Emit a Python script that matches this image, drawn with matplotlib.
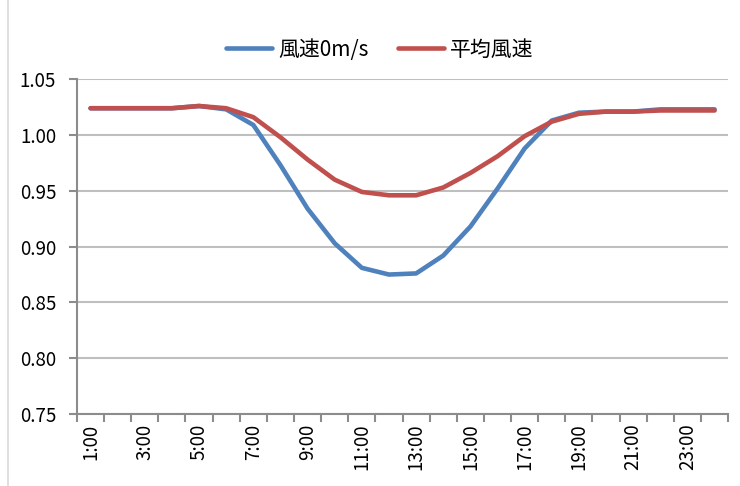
import matplotlib
matplotlib.use("Agg")
import matplotlib.pyplot as plt
from matplotlib.lines import Line2D

plt.rcParams['font.family'] = ['Noto Sans CJK JP', 'DejaVu Sans']

# 時刻（カテゴリ）
hours = [f"{h}:00" for h in range(1, 25)]

# 風速0m/s
wind_0 = [1.024, 1.024, 1.024, 1.024, 1.026, 1.023, 1.009, 0.973,
          0.934, 0.903, 0.881, 0.875, 0.876, 0.892, 0.918, 0.952,
          0.988, 1.013, 1.020, 1.021, 1.021, 1.023, 1.023, 1.023]

# 平均風速
wind_avg = [1.024, 1.024, 1.024, 1.024, 1.026, 1.024, 1.016, 0.998,
            0.978, 0.960, 0.949, 0.946, 0.946, 0.953, 0.966, 0.981,
            0.999, 1.012, 1.019, 1.021, 1.021, 1.022, 1.022, 1.022]

BLUE = "#4F81BD"
RED = "#C0504D"
GRID = "#BFBFBF"
AXIS = "#8C8C8C"

fig = plt.figure(figsize=(7.4, 4.86), dpi=100)
ax = fig.add_axes([0.104, 0.148, 0.880, 0.689])

x = list(range(len(hours)))
ax.plot(x, wind_0, color=BLUE, lw=3.3, label="風速0m/s", solid_capstyle="round")
ax.plot(x, wind_avg, color=RED, lw=3.3, label="平均風速", solid_capstyle="round")

# y 軸
ax.set_ylim(0.75, 1.05)
ax.set_yticks([0.75 + 0.05 * i for i in range(7)])
ax.set_yticklabels([f"{0.75 + 0.05 * i:.2f}" for i in range(7)], fontsize=13.5)
ax.yaxis.grid(True, color=GRID, lw=1.5)
ax.set_axisbelow(True)

# x 軸：目盛りはカテゴリ境界、ラベルは一つおき
ax.set_xlim(-0.5, len(hours) - 0.5)
ax.set_xticks([i - 0.5 for i in range(len(hours) + 1)])
ax.set_xticklabels([])
ax.set_xticks(x[::2], minor=True)
ax.set_xticklabels(hours[::2], minor=True, rotation=90, fontsize=13.5)
ax.tick_params(axis="x", which="minor", length=0, pad=7)
ax.tick_params(axis="x", which="major", length=6, width=1.5, color=AXIS)
ax.tick_params(axis="y", length=6, width=1.5, color=AXIS, pad=9)

for side in ["top", "right"]:
    ax.spines[side].set_visible(False)
for side in ["left", "bottom"]:
    ax.spines[side].set_color(AXIS)
    ax.spines[side].set_linewidth(1.5)

ax.legend(loc="lower center", bbox_to_anchor=(0.465, 1.012), ncol=2, frameon=False,
          fontsize=15, handlelength=2.2, columnspacing=1.4, handletextpad=0.3,
          borderpad=0.2)

# 左端の枠線
fig.add_artist(Line2D([0.011, 0.011], [0, 1], color="#D9D9D9", lw=1.2))

fig.savefig("out.png", dpi=100)
